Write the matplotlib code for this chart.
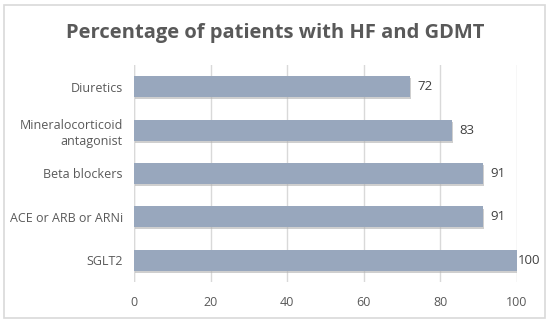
import matplotlib
matplotlib.use("Agg")
import matplotlib.pyplot as plt
import matplotlib.patheffects as pe
from matplotlib.patches import Rectangle

# data (bottom to top)
drugs = ["SGLT2", "ACE or ARB or ARNi", "Beta blockers",
         "Mineralocorticoid\nantagonist", "Diuretics"]
pct = [100, 91, 91, 83, 72]
xticks = [0, 20, 40, 60, 80, 100]

plt.rcParams['font.family'] = ['Open Sans', 'DejaVu Sans']

fig = plt.figure(figsize=(5.5, 3.24), dpi=100)
fig.patch.set_facecolor('white')
fig.patches.append(Rectangle((4/550, 1-318/324), 541/550, 313/324,
                             transform=fig.transFigure, fill=False,
                             edgecolor='#d9d9d9', linewidth=1.2))

ax = fig.add_axes([134/550, 1-282/324, 383/550, 217/324])
bars = ax.barh(range(len(drugs)), pct, height=0.48, color='#98a7bd', zorder=3)
for b in bars:
    b.set_path_effects([pe.SimplePatchShadow(offset=(1, -1.5), shadow_rgbFace='#b0b0b0', alpha=0.6),
                        pe.Normal()])

for i, v in enumerate(pct):
    ax.text(v + 2 if v < 100 else v + 0.3, i, str(v), va='center', ha='left',
            fontsize=9.5, color='#404040')

ax.set_xlim(0, 100)
ax.set_ylim(-0.5, len(drugs) - 0.5)
ax.set_xticks(xticks)
ax.set_yticks(range(len(drugs)))
ax.set_yticklabels(drugs, linespacing=1.3)
ax.tick_params(axis='both', length=0, labelsize=9, colors='#595959', pad=8)
ax.tick_params(axis='x', pad=10)
ax.xaxis.grid(True, color='#d9d9d9', linewidth=1, zorder=0)
for s in ax.spines.values():
    s.set_visible(False)
ax.axvline(0, color='#d9d9d9', linewidth=1, zorder=1)

fig.text(0.5, 1-33/324, "Percentage of patients with HF and GDMT",
         ha='center', va='center', fontsize=14.5, fontweight='bold', color='#595959')

fig.savefig("out.png", dpi=100)
